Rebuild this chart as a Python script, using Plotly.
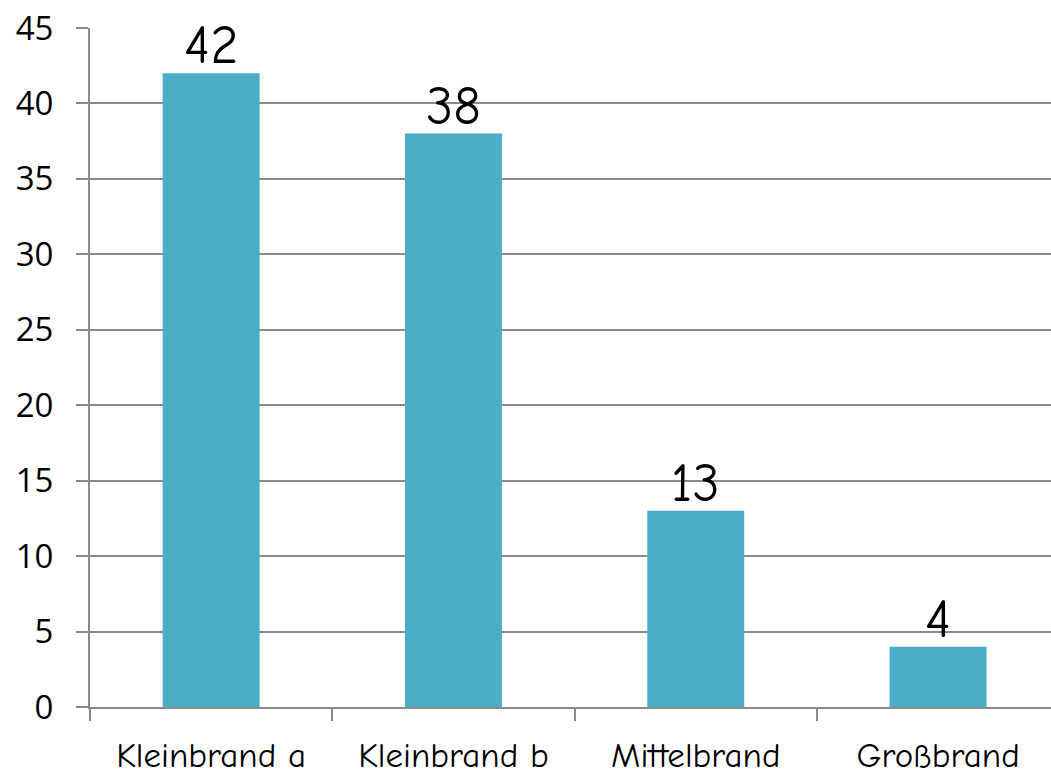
import plotly.graph_objects as go

categories = ["Kleinbrand a", "Kleinbrand b", "Mittelbrand", "Großbrand"]
counts = [42, 38, 13, 4]
y_ticks = [0, 5, 10, 15, 20, 25, 30, 35, 40, 45]

label_font = "Comic Sans MS, Comic Neue, Lato, sans-serif"
axis_font = "Open Sans, sans-serif"
grid_grey = "#8a8a8a"

fig = go.Figure(
    go.Bar(
        x=categories,
        y=counts,
        width=0.4,
        marker=dict(color="#4BACC6", line=dict(width=0)),
        hoverinfo="x+y",
    )
)

# value labels sitting just on top of each bar
for cat, val in zip(categories, counts):
    fig.add_annotation(
        x=cat,
        y=val,
        text=str(val),
        showarrow=False,
        xanchor="center",
        yanchor="bottom",
        yshift=-6,
        font=dict(family=label_font, size=54, color="#000000"),
    )

fig.update_layout(
    width=1051,
    height=776,
    margin=dict(l=90, r=0, t=28, b=67),
    paper_bgcolor="white",
    plot_bgcolor="white",
    showlegend=False,
    bargap=0.6,
)

fig.update_xaxes(
    range=[-0.5, 3.466],
    showgrid=False,
    showline=True,
    linecolor=grid_grey,
    linewidth=2,
    ticks="outside",
    tickson="boundaries",
    ticklen=12,
    tickwidth=2,
    tickcolor=grid_grey,
    tickfont=dict(family=label_font, size=35, color="#000000"),
    ticklabelstandoff=16,
)

fig.update_yaxes(
    range=[0, 45],
    tickvals=y_ticks,
    showgrid=True,
    gridcolor=grid_grey,
    gridwidth=2,
    showline=True,
    linecolor=grid_grey,
    linewidth=2,
    ticks="outside",
    ticklen=12,
    tickwidth=2,
    tickcolor=grid_grey,
    tickfont=dict(family=axis_font, size=33, color="#000000"),
    ticklabelstandoff=16,
    zeroline=False,
)

fig.write_html("out.html")
